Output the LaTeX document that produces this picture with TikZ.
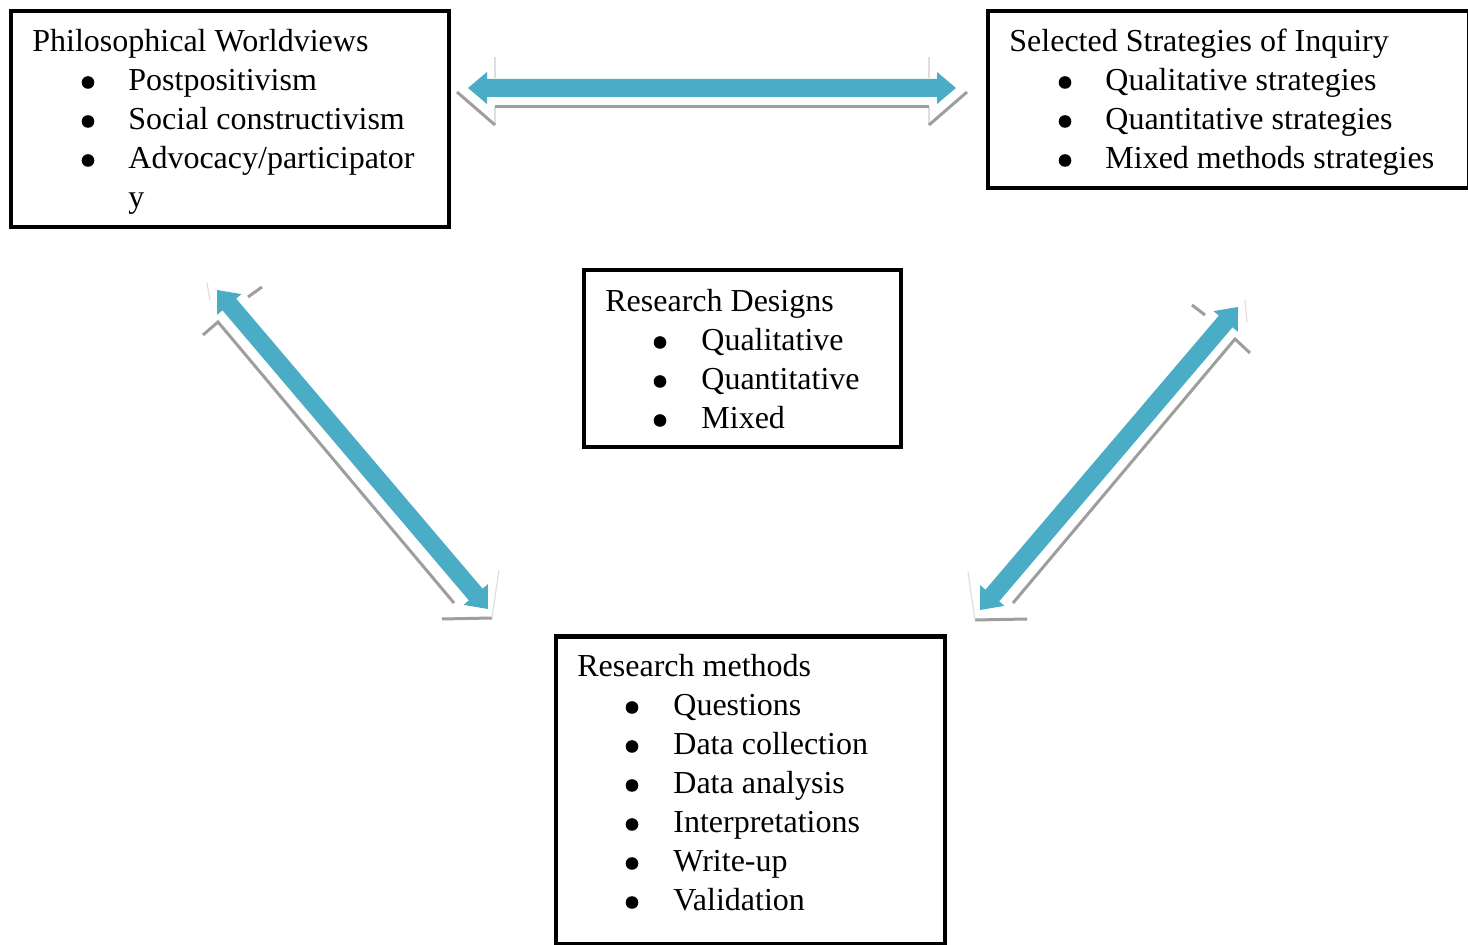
\documentclass[tikz,border=0pt]{standalone}
\usepackage{fontspec}
\setmainfont{Liberation Serif}
\usetikzlibrary{calc}

\definecolor{arrowblue}{RGB}{75,172,198}
\definecolor{shadowgray}{RGB}{158,158,158}
\definecolor{faintgray}{RGB}{222,222,222}

\tikzset{
  panel/.style={draw=black, line width=2.2pt, rectangle, inner sep=0pt},
  txt/.style={anchor=base west, inner sep=0pt, font=\fontsize{16pt}{19.5pt}\selectfont},
  bulletdot/.style={circle, fill=black, inner sep=0pt, minimum size=6.3pt},
  shadowline/.style={draw=shadowgray, line width=1.5pt},
  faintline/.style={draw=faintgray, line width=0.6pt},
}

% thick two-headed block arrow between two tip coordinates
\newcommand\bothways[2]{%
  \coordinate (#1-base) at ($(#1)!9.5pt!(#2)$);
  \coordinate (#2-base) at ($(#2)!9.5pt!(#1)$);
  \fill[arrowblue]
    (#1) -- ($(#1-base)!8pt!90:(#2)$) -- ($(#1-base)!4.5pt!90:(#2)$)
    -- ($(#2-base)!4.5pt!-90:(#1)$) -- ($(#2-base)!8pt!-90:(#1)$)
    -- (#2) -- ($(#2-base)!8pt!90:(#1)$) -- ($(#2-base)!4.5pt!90:(#1)$)
    -- ($(#1-base)!4.5pt!-90:(#2)$) -- ($(#1-base)!8pt!-90:(#2)$) -- cycle;
}

\begin{document}
\begin{tikzpicture}[x=0.5pt, y=-0.5pt]
\path[use as bounding box] (0,0) rectangle (1468,945);

% ---- boxes ----
\node[panel, minimum width=219pt, minimum height=108pt] (world) at (230,119) {};
\node[panel, minimum width=240.5pt, minimum height=88.5pt] (inquiry) at (1228.5,99.5) {};
\node[panel, minimum width=158.5pt, minimum height=88.5pt] (designs) at (742.5,358.5) {};
\node[panel, minimum width=194.5pt, minimum height=154pt] (methods) at (750.5,790.5) {};

% ---- Philosophical Worldviews ----
\node[txt] (world-title) at (32,52) {Philosophical Worldviews};
\foreach \t [count=\i] in {Postpositivism, Social constructivism, Advocacy/participator}{
  \node[bulletdot] (world-dot\i) at (88,{52+39*\i-8.5}) {};
  \node[txt] (world-item\i) at (128,{52+39*\i}) {\t};
}
\node[txt] (world-wrap) at (128,208) {y};

% ---- Selected Strategies of Inquiry ----
\node[txt] (inquiry-title) at (1009,52) {Selected Strategies of Inquiry};
\foreach \t [count=\i] in {Qualitative strategies, Quantitative strategies, Mixed methods strategies}{
  \node[bulletdot] (inquiry-dot\i) at (1065,{52+39*\i-8.5}) {};
  \node[txt] (inquiry-item\i) at (1105,{52+39*\i}) {\t};
}

% ---- Research Designs ----
\node[txt] (designs-title) at (605,312) {Research Designs};
\foreach \t [count=\i] in {Qualitative, Quantitative, Mixed}{
  \node[bulletdot] (designs-dot\i) at (660,{312+39*\i-8.5}) {};
  \node[txt] (designs-item\i) at (701,{312+39*\i}) {\t};
}

% ---- Research methods ----
\node[txt] (methods-title) at (577,677) {Research methods};
\foreach \t [count=\i] in {Questions, Data collection, Data analysis, Interpretations, Write-up, Validation}{
  \node[bulletdot] (methods-dot\i) at (632,{677+39*\i-8.5}) {};
  \node[txt] (methods-item\i) at (673,{677+39*\i}) {\t};
}

% ---- arrow tips ----
\coordinate (topL) at (468,88);
\coordinate (topR) at (956,88);
\coordinate (leftT) at (217,290);
\coordinate (leftB) at (488,609);
\coordinate (rightT) at (1238,307);
\coordinate (rightB) at (980,610);

% ---- reflection strokes under the arrows ----
% horizontal arrow
\draw[faintline] (495,57) -- (495,78) (929,57) -- (929,78);
\draw[faintline] (495,107) -- (495,125) (929,107) -- (929,125);
\draw[shadowline] (457,92) -- (495,125);
\draw[shadowline] (495,107) -- (929,107);
\draw[shadowline] (967,92) -- (929,125);
% left diagonal arrow
\draw[shadowline] (248,297) -- (262,287);
\draw[shadowline] (203,335) -- (218,322) -- (454,603);
\draw[shadowline] (442,619) -- (492,618);
\draw[faintline] (492,618) -- (499,570);
\draw[faintline] (207,283) -- (210,300);
% right diagonal arrow
\draw[shadowline] (1192,305) -- (1205,315);
\draw[shadowline] (1250,353) -- (1235,339) -- (1013,603);
\draw[shadowline] (975,620) -- (1027,619);
\draw[faintline] (968,572) -- (975,620);
\draw[faintline] (1245,300) -- (1247,322);

% ---- blue arrows ----
\bothways{topL}{topR}
\bothways{leftT}{leftB}
\bothways{rightT}{rightB}

\end{tikzpicture}
\end{document}
